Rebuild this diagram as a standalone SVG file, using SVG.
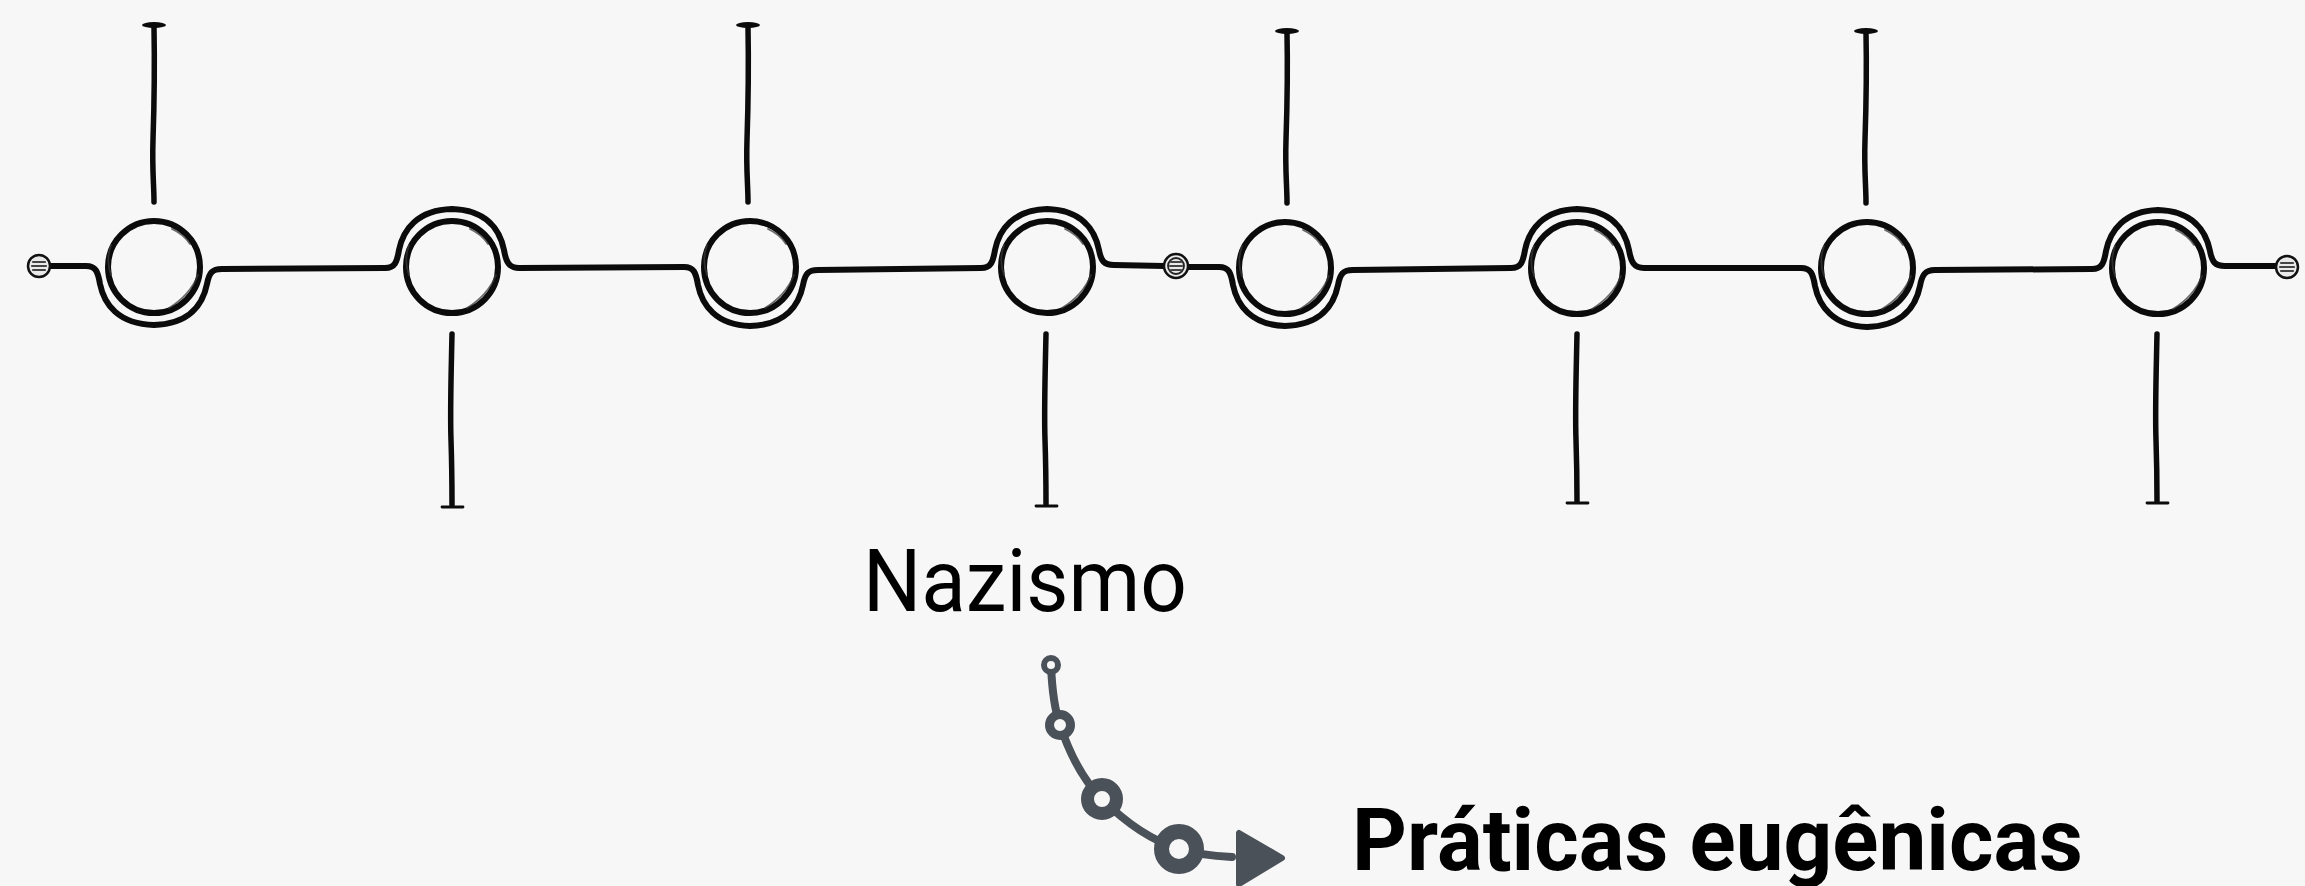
<svg xmlns="http://www.w3.org/2000/svg" width="2305" height="886" viewBox="0 0 2305 886">
<style>
.ink{fill:none;stroke:#0b0b0b;stroke-width:6;stroke-linecap:round;stroke-linejoin:round}
.sk{fill:none;stroke:#3a3a3a;stroke-width:1.8;stroke-linecap:round;opacity:.75}
.tick{fill:none;stroke:#0b0b0b;stroke-width:5.5;stroke-linecap:round;stroke-linejoin:round}
.cap{fill:#0b0b0b}
.capl{stroke:#0b0b0b;stroke-width:2.8;stroke-linecap:round}
.mk{fill:#e9e9e9;stroke:#111;stroke-width:2.5}
.mkl{stroke:#444;stroke-width:2.2;stroke-linecap:round}
.gray{fill:none;stroke:#4b5159;stroke-width:8;stroke-linecap:round}
.ring{fill:#f7f7f7;stroke:#4b5159}
.lbl{font-family:Roboto,"Liberation Sans",sans-serif;fill:#000}
</style>
<defs>
<g id="node">
<circle r="46" class="ink"/>
<path class="sk" d="M -43,-22 A 44 44 0 0 0 -43,8"/>
<path class="sk" d="M 18,-38 A 42 42 0 0 1 36,-23"/>
<path class="sk" d="M 44,8 Q 36,28 15,41"/>
</g>
<g id="endmark">
<circle r="11" class="mk"/>
<line x1="-6" y1="-4" x2="6" y2="-4" class="mkl"/>
<line x1="-7" y1="0" x2="7" y2="0" class="mkl"/>
<line x1="-6" y1="4" x2="6" y2="4" class="mkl"/>
</g>
</defs>
<rect width="2305" height="886" fill="#f7f7f7"/>
<g id="connectors">
<path class="ink" d="M 50,266 L 86,266 C 96,266 98,272 100,284 C 104,304 118,324 154,325 C 190,324 203,304 207,284 C 209,273 212,269 222,269 L 385,268 C 395,268 397,262 399,250 C 403,230 417,210 452,209 C 487,210 500,230 504,250 C 506,262 509,268 519,268 L 684,267 C 694,267 696,273 698,285 C 702,305 716,325 750,326 C 786,325 799,305 803,285 C 805,274 808,270 818,270 L 981,268 C 991,268 993,262 995,250 C 999,230 1013,210 1047,209 C 1082,210 1095,230 1099,250 C 1101,261 1104,265 1114,265 L 1164,266"/>
<path class="ink" d="M 1188,267 L 1219,267 C 1229,267 1231,273 1233,285 C 1237,305 1251,325 1285,326 C 1321,325 1334,305 1338,285 C 1340,274 1343,270 1353,270 L 1511,268 C 1521,268 1523,262 1525,250 C 1529,230 1543,210 1577,209 C 1612,210 1625,230 1629,250 C 1631,262 1634,268 1644,268 L 1801,268 C 1811,268 1813,274 1815,286 C 1819,306 1833,326 1867,327 C 1903,326 1916,306 1920,286 C 1922,275 1925,270 1935,270 L 2092,269 C 2102,269 2104,263 2106,251 C 2110,231 2124,211 2158,210 C 2193,211 2206,231 2210,251 C 2212,262 2215,266 2225,266 L 2276,266"/>
<path class="gray" d="M 1051,665 C 1052,690 1054,708 1060,725 C 1070,755 1083,780 1102,799 C 1125,822 1150,840 1179,849 C 1195,854 1212,856 1232,857"/>
<polygon points="1239,833 1239,884 1282,858" fill="#4b5159" stroke="#4b5159" stroke-width="6" stroke-linejoin="round"/>
<circle cx="1051" cy="665" r="7" class="ring" stroke-width="6"/>
<circle cx="1060" cy="725" r="10.5" class="ring" stroke-width="9"/>
<circle cx="1102" cy="799" r="14.5" class="ring" stroke-width="13"/>
<circle cx="1179" cy="849" r="17.5" class="ring" stroke-width="15"/>
</g>
<g id="start-marker"><use href="#endmark" x="39" y="266"/></g>
<g id="mid-marker">
<circle cx="1176" cy="266" r="12" class="mk"/>
<circle cx="1176" cy="266" r="8" fill="none" stroke="#222" stroke-width="1.8"/>
<line x1="1171" y1="262" x2="1181" y2="262" class="mkl"/>
<line x1="1170" y1="266" x2="1182" y2="266" class="mkl"/>
<line x1="1171" y1="270" x2="1181" y2="270" class="mkl"/>
</g>
<g id="end-marker"><use href="#endmark" x="2287" y="267"/></g>
<g id="node1">
<use href="#node" x="154" y="267"/>
<path class="tick" d="M 154,27 C 155,80 154,110 153,140 S 154,185 154,202"/>
<ellipse cx="154" cy="25" rx="12" ry="3" class="cap"/>
</g>
<g id="node2">
<use href="#node" x="452" y="267"/>
<path class="tick" d="M 452,334 C 451,380 450,410 451,440 S 452,490 452,505"/>
<line x1="442" y1="507" x2="463" y2="507" class="capl"/>
</g>
<g id="node3">
<use href="#node" x="750" y="267"/>
<path class="tick" d="M 748,27 C 749,80 748,110 747,140 S 748,185 748,202"/>
<ellipse cx="748" cy="25" rx="12" ry="3" class="cap"/>
</g>
<g id="node4">
<use href="#node" x="1047" y="267"/>
<path class="tick" d="M 1046,334 C 1045,380 1044,410 1045,440 S 1046,490 1046,504"/>
<line x1="1036" y1="506" x2="1057" y2="506" class="capl"/>
</g>
<g id="node5">
<use href="#node" x="1285" y="268"/>
<path class="tick" d="M 1287,33 C 1288,80 1287,110 1286,140 S 1287,185 1287,203"/>
<ellipse cx="1287" cy="31" rx="12" ry="3" class="cap"/>
</g>
<g id="node6">
<use href="#node" x="1577" y="268"/>
<path class="tick" d="M 1577,334 C 1576,380 1575,410 1576,440 S 1577,490 1577,501"/>
<line x1="1567" y1="503" x2="1588" y2="503" class="capl"/>
</g>
<g id="node7">
<use href="#node" x="1867" y="268"/>
<path class="tick" d="M 1866,33 C 1867,80 1866,110 1865,140 S 1866,185 1866,203"/>
<ellipse cx="1866" cy="31" rx="12" ry="3" class="cap"/>
</g>
<g id="node8">
<use href="#node" x="2158" y="268"/>
<path class="tick" d="M 2157,334 C 2156,380 2155,410 2156,440 S 2157,490 2157,501"/>
<line x1="2147" y1="503" x2="2168" y2="503" class="capl"/>
</g>
<g id="label-nazismo">
<text class="lbl" x="863" y="611" font-size="87" font-weight="400" textLength="324" lengthAdjust="spacingAndGlyphs">Nazismo</text>
</g>
<g id="label-praticas">
<text class="lbl" x="1352" y="870" font-size="88" font-weight="700" textLength="731" lengthAdjust="spacingAndGlyphs">Práticas eugênicas</text>
</g>
</svg>
